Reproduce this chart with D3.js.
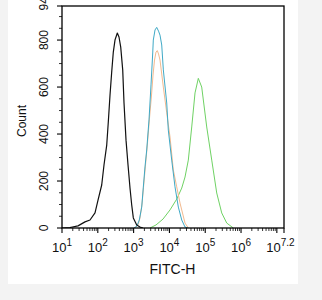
<!DOCTYPE html>
<html>
<head>
<meta charset="utf-8">
<script src="https://cdn.jsdelivr.net/npm/d3@7"></script>
<style>
  body { margin: 0; background: #f3f3f3; }
  svg { display: block; font-family: "Liberation Sans", Arial, sans-serif; }
</style>
</head>
<body>
<script>
// histogram points: x as log10(FITC-H), y as count
var blackLog   = [1.000, 1.223, 1.447, 1.642, 1.782, 1.922, 2.006, 2.109, 2.173, 2.249, 2.293, 2.341, 2.388, 2.433, 2.480, 2.545, 2.592, 2.640, 2.696, 2.732, 2.788, 2.844, 2.899, 2.947, 2.992, 3.087, 3.179, 3.263];
var blackCount = [0, 2, 9, 26, 34, 64, 119, 183, 268, 353, 451, 566, 664, 749, 800, 830, 813, 770, 672, 532, 374, 268, 170, 98, 43, 13, 4, 0];

var tealLog   = [3.011, 3.095, 3.159, 3.226, 3.271, 3.318, 3.366, 3.430, 3.486, 3.534, 3.550, 3.598, 3.645, 3.696, 3.737, 3.785, 3.830, 3.925, 3.969, 4.064, 4.156, 4.249, 4.344, 4.436, 4.520];
var tealCount = [0, 9, 34, 89, 174, 260, 332, 460, 609, 745, 800, 843, 854, 838, 821, 779, 673, 532, 417, 289, 175, 89, 34, 4, 0];

var orangeLog   = [3.039, 3.123, 3.179, 3.235, 3.282, 3.332, 3.383, 3.444, 3.500, 3.542, 3.584, 3.626, 3.662, 3.696, 3.737, 3.830, 3.925, 4.017, 4.109, 4.204, 4.296, 4.436, 4.528];
var orangeCount = [0, 13, 43, 102, 183, 268, 353, 468, 566, 651, 715, 749, 755, 741, 715, 600, 490, 387, 247, 175, 106, 21, 0];

var greenLog   = [3.458, 3.626, 3.821, 4.017, 4.204, 4.344, 4.436, 4.528, 4.623, 4.715, 4.807, 4.902, 5.042, 5.182, 5.321, 5.461, 5.601, 5.785];
var greenCount = [0, 13, 38, 77, 123, 170, 217, 289, 430, 575, 637, 600, 430, 289, 149, 64, 21, 0];

var xMajorExp = [1, 2, 3, 4, 5, 6, 7, 7.2];
var xLabelExp = ["1", "2", "3", "4", "5", "6", "7.2"];
var yMajor = [0, 200, 400, 600, 800, 945];

var width = 322, height = 300;

var svg = d3.select("body").append("svg")
    .attr("width", width)
    .attr("height", height);

// white picture area
svg.append("rect")
    .attr("x", 8).attr("y", 0)
    .attr("width", 290).attr("height", 284)
    .attr("fill", "#ffffff");

var x = d3.scaleLog().domain([10, Math.pow(10, 7.2)]).range([62, 284]);
var y = d3.scaleLinear().domain([0, 945]).range([228, 6]);

svg.append("clipPath").attr("id", "plot")
  .append("rect").attr("x", 62).attr("y", 6).attr("width", 222).attr("height", 222);

var line = d3.line()
    .x(function(d){ return x(Math.pow(10, d[0])); })
    .y(function(d){ return y(d[1]); });

function pairs(a, b){ return a.map(function(v, i){ return [v, b[i]]; }); }

var series = [
    {data: pairs(greenLog, greenCount), color: "#6fd264", w: 1},
    {data: pairs(orangeLog, orangeCount), color: "#f2b98e", w: 1},
    {data: pairs(tealLog, tealCount), color: "#3fa9c6", w: 1},
    {data: pairs(blackLog, blackCount), color: "#111111", w: 1.2}
];

svg.append("g").attr("clip-path", "url(#plot)")
  .selectAll("path").data(series).enter().append("path")
    .attr("d", function(d){ return line(d.data); })
    .attr("fill", "none")
    .attr("stroke", function(d){ return d.color; })
    .attr("stroke-width", function(d){ return d.w; })
    .attr("stroke-linejoin", "round");

// frame
svg.append("rect")
    .attr("x", 62).attr("y", 6).attr("width", 222).attr("height", 222)
    .attr("fill", "none").attr("stroke", "#000").attr("stroke-width", 1.3);

// x ticks
var xMinor = [];
for (var d = 1; d < 7; d++) for (var k = 2; k < 10; k++) xMinor.push(k * Math.pow(10, d));

svg.append("g").selectAll("line").data(xMinor).enter().append("line")
    .attr("x1", function(v){ return x(v); }).attr("x2", function(v){ return x(v); })
    .attr("y1", 228).attr("y2", 231)
    .attr("stroke", "#000").attr("stroke-width", 0.8);

svg.append("g").selectAll("line").data(xMajorExp).enter().append("line")
    .attr("x1", function(e){ return x(Math.pow(10, e)); }).attr("x2", function(e){ return x(Math.pow(10, e)); })
    .attr("y1", 228).attr("y2", 233)
    .attr("stroke", "#000").attr("stroke-width", 1.1);

var xl = svg.append("g").selectAll("text").data(xLabelExp).enter().append("text")
    .attr("x", function(e){ return e === "7.2" ? 280.5 : x(Math.pow(10, +e)); })
    .attr("y", 252)
    .attr("text-anchor", "middle")
    .attr("font-size", 13)
    .attr("fill", "#111");
xl.append("tspan").text("10");
xl.append("tspan").attr("dy", -6.5).attr("font-size", 10).text(function(e){ return e; });

// y ticks
var yMinor = d3.range(50, 945, 50).filter(function(v){ return yMajor.indexOf(v) < 0; });

svg.append("g").selectAll("line").data(yMinor).enter().append("line")
    .attr("x1", 59).attr("x2", 62)
    .attr("y1", function(v){ return y(v); }).attr("y2", function(v){ return y(v); })
    .attr("stroke", "#000").attr("stroke-width", 0.8);

svg.append("g").selectAll("line").data(yMajor).enter().append("line")
    .attr("x1", 57).attr("x2", 62)
    .attr("y1", function(v){ return y(v); }).attr("y2", function(v){ return y(v); })
    .attr("stroke", "#000").attr("stroke-width", 1.1);

svg.append("g").selectAll("text").data(yMajor).enter().append("text")
    .attr("transform", function(v){
        var py = v === 945 ? 10.5 : y(v);
        return "translate(48," + py + ") rotate(-90)";
    })
    .attr("text-anchor", function(v){ return v === 945 ? "start" : "middle"; })
    .attr("font-size", 12)
    .attr("fill", "#111")
    .text(function(v){ return v; });

// axis titles
svg.append("text")
    .attr("transform", "translate(26,121) rotate(-90)")
    .attr("text-anchor", "middle")
    .attr("font-size", 12)
    .attr("fill", "#111")
    .text("Count");

svg.append("text")
    .attr("x", 172.5).attr("y", 274)
    .attr("text-anchor", "middle")
    .attr("font-size", 14)
    .attr("fill", "#111")
    .text("FITC-H");
</script>
</body>
</html>
